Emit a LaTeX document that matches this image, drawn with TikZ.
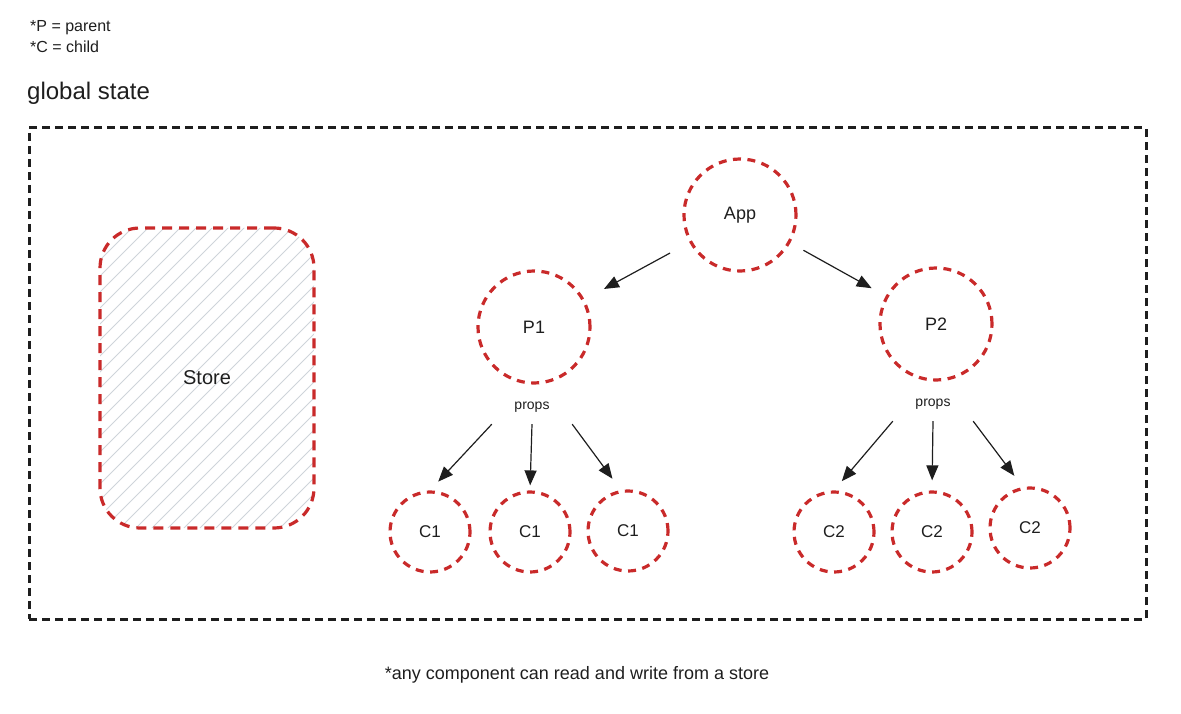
\documentclass[tikz,border=0pt]{standalone}
\usepackage{fontspec}
\setmainfont{Liberation Sans}
\usetikzlibrary{arrows.meta}
\definecolor{exred}{HTML}{C92A2A}
\definecolor{ink}{HTML}{1E1E1E}
\definecolor{hatchgray}{HTML}{CED4DA}
\begin{document}
\begin{tikzpicture}[x=1pt,y=-1pt,
  comp/.style={circle, draw=exred, line width=3.2pt, dash pattern=on 8pt off 6.5pt,
    minimum size=112pt, inner sep=0pt, font=\fontsize{18}{20}\selectfont, text=ink},
  childc/.style={comp, minimum size=80pt, font=\fontsize{17}{20}\selectfont},
  arr/.style={draw=ink, line width=1.2pt, -{Triangle[length=15pt,width=12pt]}},
  propsbox/.style={minimum width=80pt, minimum height=34pt, inner sep=0pt,
    font=\fontsize{14}{16}\selectfont, text=ink},
  note/.style={anchor=west, inner sep=0pt, text=ink},
  hatch/.style={draw=hatchgray, line width=1pt, solid}
]
\useasboundingbox (0,0) rectangle (1181,714);

% legend and titles
\node[note, font=\fontsize{16}{18}\selectfont] (legp) at (30,28) {*P = parent};
\node[note, font=\fontsize{16}{18}\selectfont] (legc) at (30,47) {*C = child};
\node[note, font=\fontsize{24}{28}\selectfont] (title) at (27,93) {global state};

% global state frame
\node[draw=ink, line width=3pt, dash pattern=on 8pt off 5pt,
  minimum width=1117pt, minimum height=491pt, inner sep=0pt] (global) at (587.5,373.5) {};

% store
\node[draw=exred, line width=3.2pt, dash pattern=on 10pt off 7pt, rounded corners=40pt,
  minimum width=214pt, minimum height=300pt, inner sep=0pt, text=ink,
  font=\fontsize{20}{24}\selectfont,
  path picture={
    \foreach \k in {0,...,34}
      \draw[hatch] ([xshift=\k*16pt-300pt]path picture bounding box.south west) -- ++(320pt,320pt);
  }] (store) at (207,378) {Store};

% components
\node[comp] (app) at (740,215) {App};
\node[comp] (p1) at (534,327) {P1};
\node[comp] (p2) at (936,324) {P2};

\node[childc] (c1a) at (430,532) {C1};
\node[childc] (c1b) at (530,532) {C1};
\node[childc] (c1c) at (628,531) {C1};
\node[childc] (c2a) at (834,532) {C2};
\node[childc] (c2b) at (932,532) {C2};
\node[childc] (c2c) at (1030,528) {C2};

\node[propsbox] (pp1) at (532,407) {props};
\node[propsbox] (pp2) at (933,404) {props};

% connectors
\draw[arr, shorten <=22pt, shorten >=22pt] (app) -- (p1);
\draw[arr, shorten <=15pt, shorten >=16pt] (app) -- (p2);

\draw[arr, shorten >=12pt] (pp1.south west) -- (c1a.north);
\draw[arr, shorten >=5pt] (pp1.south) -- (c1b.north);
\draw[arr, shorten >=14pt] (pp1.south east) -- (c1c.100);

\draw[arr, shorten >=12pt] (pp2.south west) -- (c2a.north);
\draw[arr, shorten >=10pt] (pp2.south) -- (c2b.north);
\draw[arr, shorten >=14pt] (pp2.south east) -- (c2c.100);

% footnote
\node[inner sep=0pt, text=ink, font=\fontsize{18}{21}\selectfont] (foot) at (577,675)
  {*any component can read and write from a store};
\end{tikzpicture}
\end{document}
